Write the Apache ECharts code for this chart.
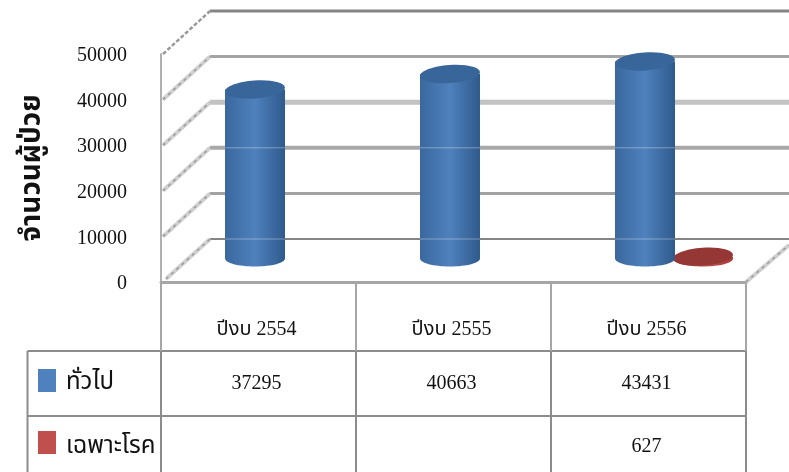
<!DOCTYPE html>
<html>
<head>
<meta charset="utf-8">
<style>
  html, body { margin: 0; padding: 0; background: #fff; }
  #chart { width: 789px; height: 472px; }
</style>
<script src="https://cdn.jsdelivr.net/npm/echarts@6/dist/echarts.min.js"></script>
</head>
<body>
<div id="chart"></div>
<script>
const categories = ['ปีงบ 2554', 'ปีงบ 2555', 'ปีงบ 2556'];
const seriesNames = ['ทั่วไป', 'เฉพาะโรค'];
const generalValues = [37295, 40663, 43431];
const specificValues = [null, null, 627];
const wallTicks = [0, 10000, 20000, 30000, 40000, 50000];

const FONT = '"Liberation Serif", "Times New Roman", "Noto Sans Thai", serif';
const BLUE = '#4f81bd';
const RED = '#c0504d';
const LINE = '#8c8c8c';

// fake 3d: the back wall is the front axis plane moved up and right
const DEPTH_X = 47;
const DEPTH_Y = 43;
const BAR_RX = 30;
const BAR_RY = 10;
const BAR_SHIFT = 29;

// back wall gridlines are not all the same weight in the picture
const wallStyle = {
  0: { color: '#858585', width: 2 },
  10000: { color: '#a2a2a2', width: 3 },
  20000: { color: '#a8a8a8', width: 4 },
  30000: { color: '#c2c2c2', width: 5 },
  40000: { color: '#a4a4a4', width: 3 },
  50000: { color: '#858585', width: 3 }
};

const chart = echarts.init(document.getElementById('chart'), null, { renderer: 'canvas' });

function renderWall(params, api) {
  const v = api.value(0);
  const p = api.coord([0, v]);
  const cs = params.coordSys;
  const style = wallStyle[v];
  const x0 = cs.x + 2;
  const x1 = x0 + DEPTH_X;
  const y0 = p[1];
  const y1 = p[1] - DEPTH_Y;
  const children = [
    {
      type: 'line',
      shape: { x1: x1, y1: y1, x2: 789, y2: y1 },
      style: { stroke: style.color, lineWidth: style.width, fill: null }
    }
  ];
  const ends = v === 0
    ? [[x0 + 3, y0 - 3, x1, y1], [cs.x + cs.width, y0, 789, y0 - 37]]
    : [[x0, y0, x1, y1]];
  ends.forEach(e => {
    if (v < 50000) {
      children.push({
        type: 'line',
        shape: { x1: e[0], y1: e[1], x2: e[2], y2: e[3] },
        style: { stroke: '#d0d0d0', lineWidth: 4, fill: null }
      });
    }
    children.push({
      type: 'line',
      shape: { x1: e[0], y1: e[1], x2: e[2], y2: e[3] },
      style: { stroke: '#9a9a9a', lineWidth: v < 50000 ? 1.5 : 2.5, lineDash: v < 50000 ? [3, 4] : [4, 2], fill: null }
    });
  });
  return { type: 'group', children: children };
}

function cylinder(shift, colors) {
  return function (params, api) {
    const v = api.value(1);
    if (isNaN(v)) return;
    const top = api.coord([api.value(0), v]);
    const base = api.coord([api.value(0), 0]);
    const cx = top[0] + shift + DEPTH_X / 2 + 2;
    const yTop = top[1] - DEPTH_Y / 2 - 1;
    const yBase = base[1] - DEPTH_Y / 2 - 2;
    const body = new echarts.graphic.LinearGradient(0, 0, 1, 0, [
      { offset: 0, color: colors.edgeLeft },
      { offset: 0.5, color: colors.mid },
      { offset: 1, color: colors.edgeRight }
    ]);
    const children = [
      { type: 'ellipse', shape: { cx: cx, cy: yBase, rx: BAR_RX, ry: BAR_RY - 2 }, style: { fill: body } },
      { type: 'rect', shape: { x: cx - BAR_RX, y: yTop, width: BAR_RX * 2, height: yBase - yTop }, style: { fill: body } },
      {
        type: 'ellipse',
        shape: { cx: 0, cy: 0, rx: BAR_RX, ry: BAR_RY - 1 },
        x: cx,
        y: yTop,
        rotation: 0.07,
        style: { fill: colors.top }
      }
    ];
    // the wall lines show faintly through the tall bars
    if (v > 10000) {
      [0, 20000].forEach(level => {
        const y = api.coord([0, level])[1] - DEPTH_Y;
        children.push({
          type: 'line',
          shape: { x1: cx - BAR_RX, y1: y, x2: cx + BAR_RX, y2: y },
          style: { stroke: 'rgba(255,255,255,0.35)', lineWidth: 1, fill: null }
        });
      });
    }
    return { type: 'group', children: children };
  };
}

function tableGraphics() {
  const left = 27.5;
  const xs = [161, 356, 551, 746];
  const rows = [351, 416, 472];
  const out = [];
  const line = (x1, y1, x2, y2) => out.push({
    type: 'line',
    shape: { x1: x1, y1: y1, x2: x2, y2: y2 },
    style: { stroke: LINE, lineWidth: 2 }
  });
  const text = (t, x, y, align, size) => out.push({
    type: 'text',
    x: x,
    y: y,
    style: { text: t, font: size + 'px ' + FONT, fill: '#111', align: align, verticalAlign: 'middle' }
  });
  line(left, rows[0], xs[3], rows[0]);
  line(left, rows[1], xs[3], rows[1]);
  line(left, rows[0], left, rows[2]);
  xs.forEach(x => line(x, rows[0], x, rows[2]));

  [[generalValues, BLUE, 369, 383], [specificValues, RED, 431, 447]].forEach((row, r) => {
    out.push({
      type: 'rect',
      shape: { x: 38, y: row[2], width: 18, height: 23 },
      style: { fill: row[1] }
    });
    text(seriesNames[r], 66, row[3], 'left', 24);
    row[0].forEach((v, i) => {
      if (v !== null) text(String(v), (xs[i] + xs[i + 1]) / 2 - 2, row[3] + (r === 0 ? 1 : 0), 'center', 20);
    });
  });
  return out;
}

const option = {
  animation: false,
  backgroundColor: '#fff',
  grid: { left: 161, right: 43, top: 54, bottom: 190, containLabel: false },
  xAxis: {
    type: 'category',
    data: categories,
    boundaryGap: true,
    axisLine: { lineStyle: { color: '#a6a6a6', width: 3 } },
    axisTick: { show: true, alignWithLabel: false, length: 69, lineStyle: { color: '#a6a6a6', width: 2 } },
    axisLabel: { margin: 38, color: '#111', fontSize: 20, fontFamily: FONT, interval: 0, padding: [0, 4, 0, 0] },
    splitLine: { show: false }
  },
  yAxis: {
    type: 'value',
    min: 0,
    max: 50000,
    interval: 10000,
    name: 'จำนวนผู้ป่วย',
    nameLocation: 'middle',
    nameRotate: 90,
    nameGap: 114,
    nameTextStyle: { color: '#111', fontSize: 28, fontWeight: 'bold', fontFamily: FONT },
    axisLine: { show: true, lineStyle: { color: '#b0b0b0', width: 2 } },
    axisTick: { show: false },
    axisLabel: {
      margin: 34,
      formatter: v => '{n|' + v + '}',
      rich: { n: { color: '#111', fontSize: 20, fontFamily: FONT, padding: [4, 0, 0, 0] } }
    },
    splitLine: { show: false }
  },
  series: [
    {
      type: 'custom',
      name: 'wall',
      clip: false,
      silent: true,
      z: 1,
      data: wallTicks.map(v => [v]),
      encode: { y: 0 },
      renderItem: renderWall
    },
    {
      type: 'custom',
      name: seriesNames[0],
      clip: false,
      z: 3,
      data: generalValues.map((v, i) => [i, v]),
      renderItem: cylinder(-BAR_SHIFT, { edgeLeft: '#3a689e', mid: '#4f81bd', edgeRight: '#2f5a8c', top: '#38659a' })
    },
    {
      type: 'custom',
      name: seriesNames[1],
      clip: false,
      z: 2,
      data: specificValues.map((v, i) => [i, v === null ? NaN : v]),
      renderItem: cylinder(BAR_SHIFT, { edgeLeft: '#b5403d', mid: '#c0504d', edgeRight: '#a83c39', top: '#953735' })
    }
  ],
  graphic: { elements: tableGraphics() }
};

chart.setOption(option);
</script>
</body>
</html>
